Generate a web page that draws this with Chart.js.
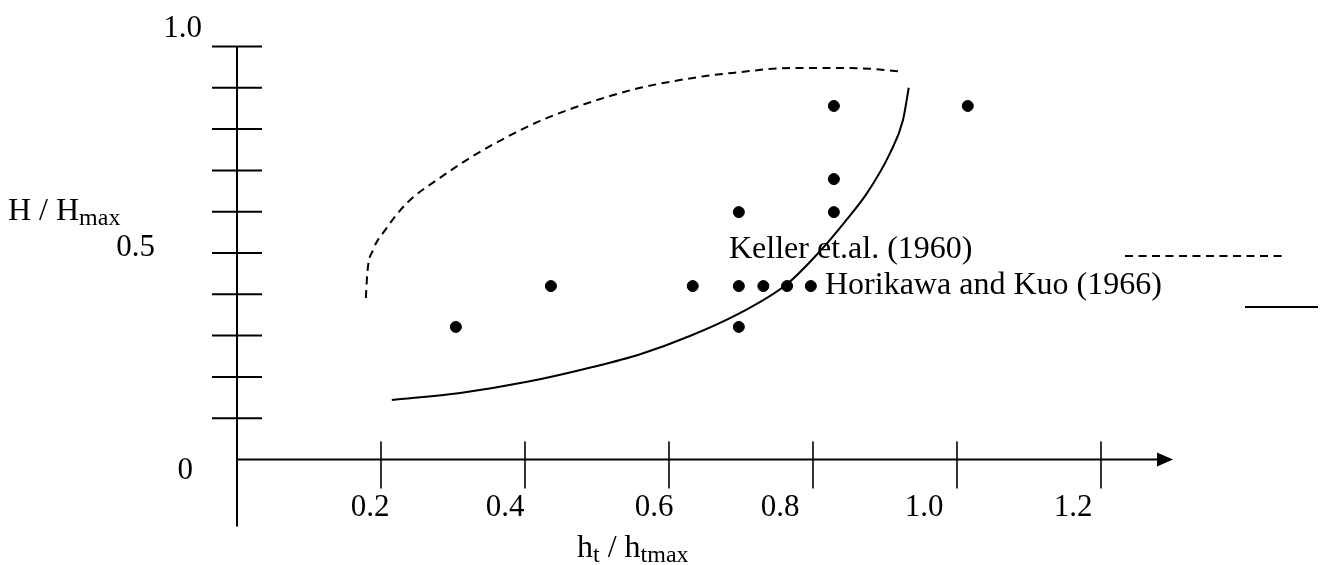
<!DOCTYPE html>
<html>
<head>
<meta charset="utf-8">
<script src="https://cdn.jsdelivr.net/npm/chart.js@4.4.0/dist/chart.umd.min.js"></script>
<style>
  html, body { margin: 0; padding: 0; background: #fff; }
  canvas { display: block; }
</style>
</head>
<body>
<canvas id="chart" width="1322" height="565"></canvas>
<script>
// measured points (h_t / h_tmax, H / H_max)
const pointsX = [0.304, 0.436, 0.633, 0.697, 0.731, 0.764, 0.797, 0.697, 0.697, 0.829, 0.829, 0.829, 1.015];
const pointsY = [0.321, 0.42, 0.42, 0.42, 0.42, 0.42, 0.42, 0.321, 0.599, 0.599, 0.679, 0.856, 0.856];

// Keller et.al. (1960) envelope, dashed
const kellerX = [0.179, 0.181, 0.189, 0.206, 0.236, 0.282, 0.328, 0.375, 0.421, 0.467, 0.514, 0.56, 0.606, 0.653, 0.699, 0.744, 0.792, 0.838, 0.879, 0.925];
const kellerY = [0.391, 0.452, 0.507, 0.556, 0.621, 0.682, 0.735, 0.781, 0.82, 0.851, 0.878, 0.9, 0.916, 0.929, 0.938, 0.946, 0.948, 0.948, 0.946, 0.939];

// Horikawa and Kuo (1966) envelope, solid
const horiX = [0.215, 0.31, 0.403, 0.494, 0.56, 0.629, 0.699, 0.764, 0.81, 0.844, 0.875, 0.907, 0.925, 0.933];
const horiY = [0.144, 0.161, 0.188, 0.224, 0.255, 0.299, 0.355, 0.425, 0.505, 0.575, 0.645, 0.742, 0.822, 0.9];

const xTicks = [0.2, 0.4, 0.6, 0.8, 1.0, 1.2];
const xTickLabels = ["0.2", "0.4", "0.6", "0.8", "1.0", "1.2"];
const yTicks = [0.1, 0.2, 0.3, 0.4, 0.5, 0.6, 0.7, 0.8, 0.9, 1.0];
const yLabelValues = [0, 0.5, 1.0];
const yLabels = ["0", "0.5", "1.0"];

const legendNames = ["Keller et.al. (1960)", "Horikawa and Kuo (1966)"];

const toXY = (xs, ys) => xs.map((x, i) => ({ x: x, y: ys[i] }));

const SERIF = '"Liberation Serif", "DejaVu Serif", serif';
// text pieces drawn inline: normal and subscript
function drawRich(ctx, parts, x, y) {
  let cx = x;
  parts.forEach(p => {
    ctx.font = (p.sub ? 24 : 32) + "px " + SERIF;
    ctx.fillText(p.t, cx, p.sub ? y + 5 : y);
    cx += ctx.measureText(p.t).width;
  });
}

// label shifts seen in the figure (labels sit a little left of their ticks)
const xLabelShift = [-11, -20, -15, -33, -33, -28];

const axesPlugin = {
  id: "handAxes",
  beforeDatasetsDraw(chart) {
    const { ctx, scales: { x, y } } = chart;
    const ox = x.getPixelForValue(0);
    const oy = y.getPixelForValue(0);
    const top = y.getPixelForValue(1.0);
    const tip = x.getPixelForValue(1.3);
    ctx.save();
    ctx.strokeStyle = "#000";
    ctx.fillStyle = "#000";
    ctx.lineWidth = 2;
    // y axis, running below the x axis
    ctx.beginPath();
    ctx.moveTo(ox, top);
    ctx.lineTo(ox, oy + 67);
    ctx.stroke();
    // x axis with arrow
    ctx.beginPath();
    ctx.moveTo(ox, oy);
    ctx.lineTo(tip - 14, oy);
    ctx.stroke();
    ctx.beginPath();
    ctx.moveTo(tip, oy);
    ctx.lineTo(tip - 16, oy - 7);
    ctx.lineTo(tip - 16, oy + 7);
    ctx.closePath();
    ctx.fill();
    // y ticks cross the axis
    yTicks.forEach(v => {
      const py = y.getPixelForValue(v);
      ctx.beginPath();
      ctx.moveTo(ox - 25, py);
      ctx.lineTo(ox + 25, py);
      ctx.stroke();
    });
    // x ticks
    ctx.lineWidth = 1.6;
    xTicks.forEach(v => {
      const px = x.getPixelForValue(v);
      ctx.beginPath();
      ctx.moveTo(px, oy - 18);
      ctx.lineTo(px, oy + 29);
      ctx.stroke();
    });
    ctx.restore();
  },
  afterDraw(chart) {
    const { ctx, scales: { x, y } } = chart;
    const ox = x.getPixelForValue(0);
    const oy = y.getPixelForValue(0);
    ctx.save();
    ctx.fillStyle = "#000";
    ctx.strokeStyle = "#000";
    ctx.textBaseline = "alphabetic";

    // x tick labels
    ctx.font = "31px " + SERIF;
    ctx.textAlign = "center";
    xTicks.forEach((v, i) => {
      ctx.fillText(xTickLabels[i], x.getPixelForValue(v) + xLabelShift[i], oy + 56);
    });

    // y labels placed by hand in the figure
    ctx.textAlign = "right";
    const yPos = [[ox - 44, oy + 19], [ox - 82, y.getPixelForValue(0.5) + 3], [ox - 35, y.getPixelForValue(1.0) - 10]];
    yLabelValues.forEach((v, i) => {
      ctx.fillText(yLabels[i], yPos[i][0], yPos[i][1]);
    });

    // axis titles
    ctx.textAlign = "left";
    drawRich(ctx, [{ t: "H / H" }, { t: "max", sub: true }], 8, 220);
    drawRich(ctx, [{ t: "h" }, { t: "t", sub: true }, { t: " / h" }, { t: "tmax", sub: true }], 577, 557);

    // legend
    ctx.font = "32px " + SERIF;
    ctx.fillText(legendNames[0], 729, 258);
    ctx.fillText(legendNames[1], 825, 294);
    ctx.lineWidth = 2;
    ctx.setLineDash([8, 5.5]);
    ctx.beginPath();
    ctx.moveTo(1125, 256);
    ctx.lineTo(1287, 256);
    ctx.stroke();
    ctx.setLineDash([]);
    ctx.beginPath();
    ctx.moveTo(1245, 307);
    ctx.lineTo(1318, 307);
    ctx.stroke();
    ctx.restore();
  }
};

new Chart(document.getElementById("chart"), {
  type: "scatter",
  data: {
    datasets: [
      {
        label: "data",
        data: toXY(pointsX, pointsY),
        backgroundColor: "#000",
        borderColor: "#000",
        pointRadius: 5.5,
        pointHoverRadius: 5.5,
      },
      {
        label: legendNames[0],
        data: toXY(kellerX, kellerY),
        showLine: true,
        borderColor: "#000",
        borderWidth: 2,
        borderDash: [8, 5.5],
        pointRadius: 0,
        cubicInterpolationMode: "monotone",
      },
      {
        label: legendNames[1],
        data: toXY(horiX, horiY),
        showLine: true,
        borderColor: "#000",
        borderWidth: 2,
        pointRadius: 0,
        cubicInterpolationMode: "monotone",
      },
    ],
  },
  options: {
    responsive: false,
    animation: false,
    events: [],
    layout: { padding: { left: 237, right: 149, top: 46.5, bottom: 105.5 } },
    scales: {
      x: { type: "linear", min: 0, max: 1.3, display: false },
      y: { type: "linear", min: 0, max: 1.0, display: false },
    },
    plugins: {
      legend: { display: false },
      tooltip: { enabled: false },
    },
    clip: false,
  },
  plugins: [axesPlugin],
});
</script>
</body>
</html>
